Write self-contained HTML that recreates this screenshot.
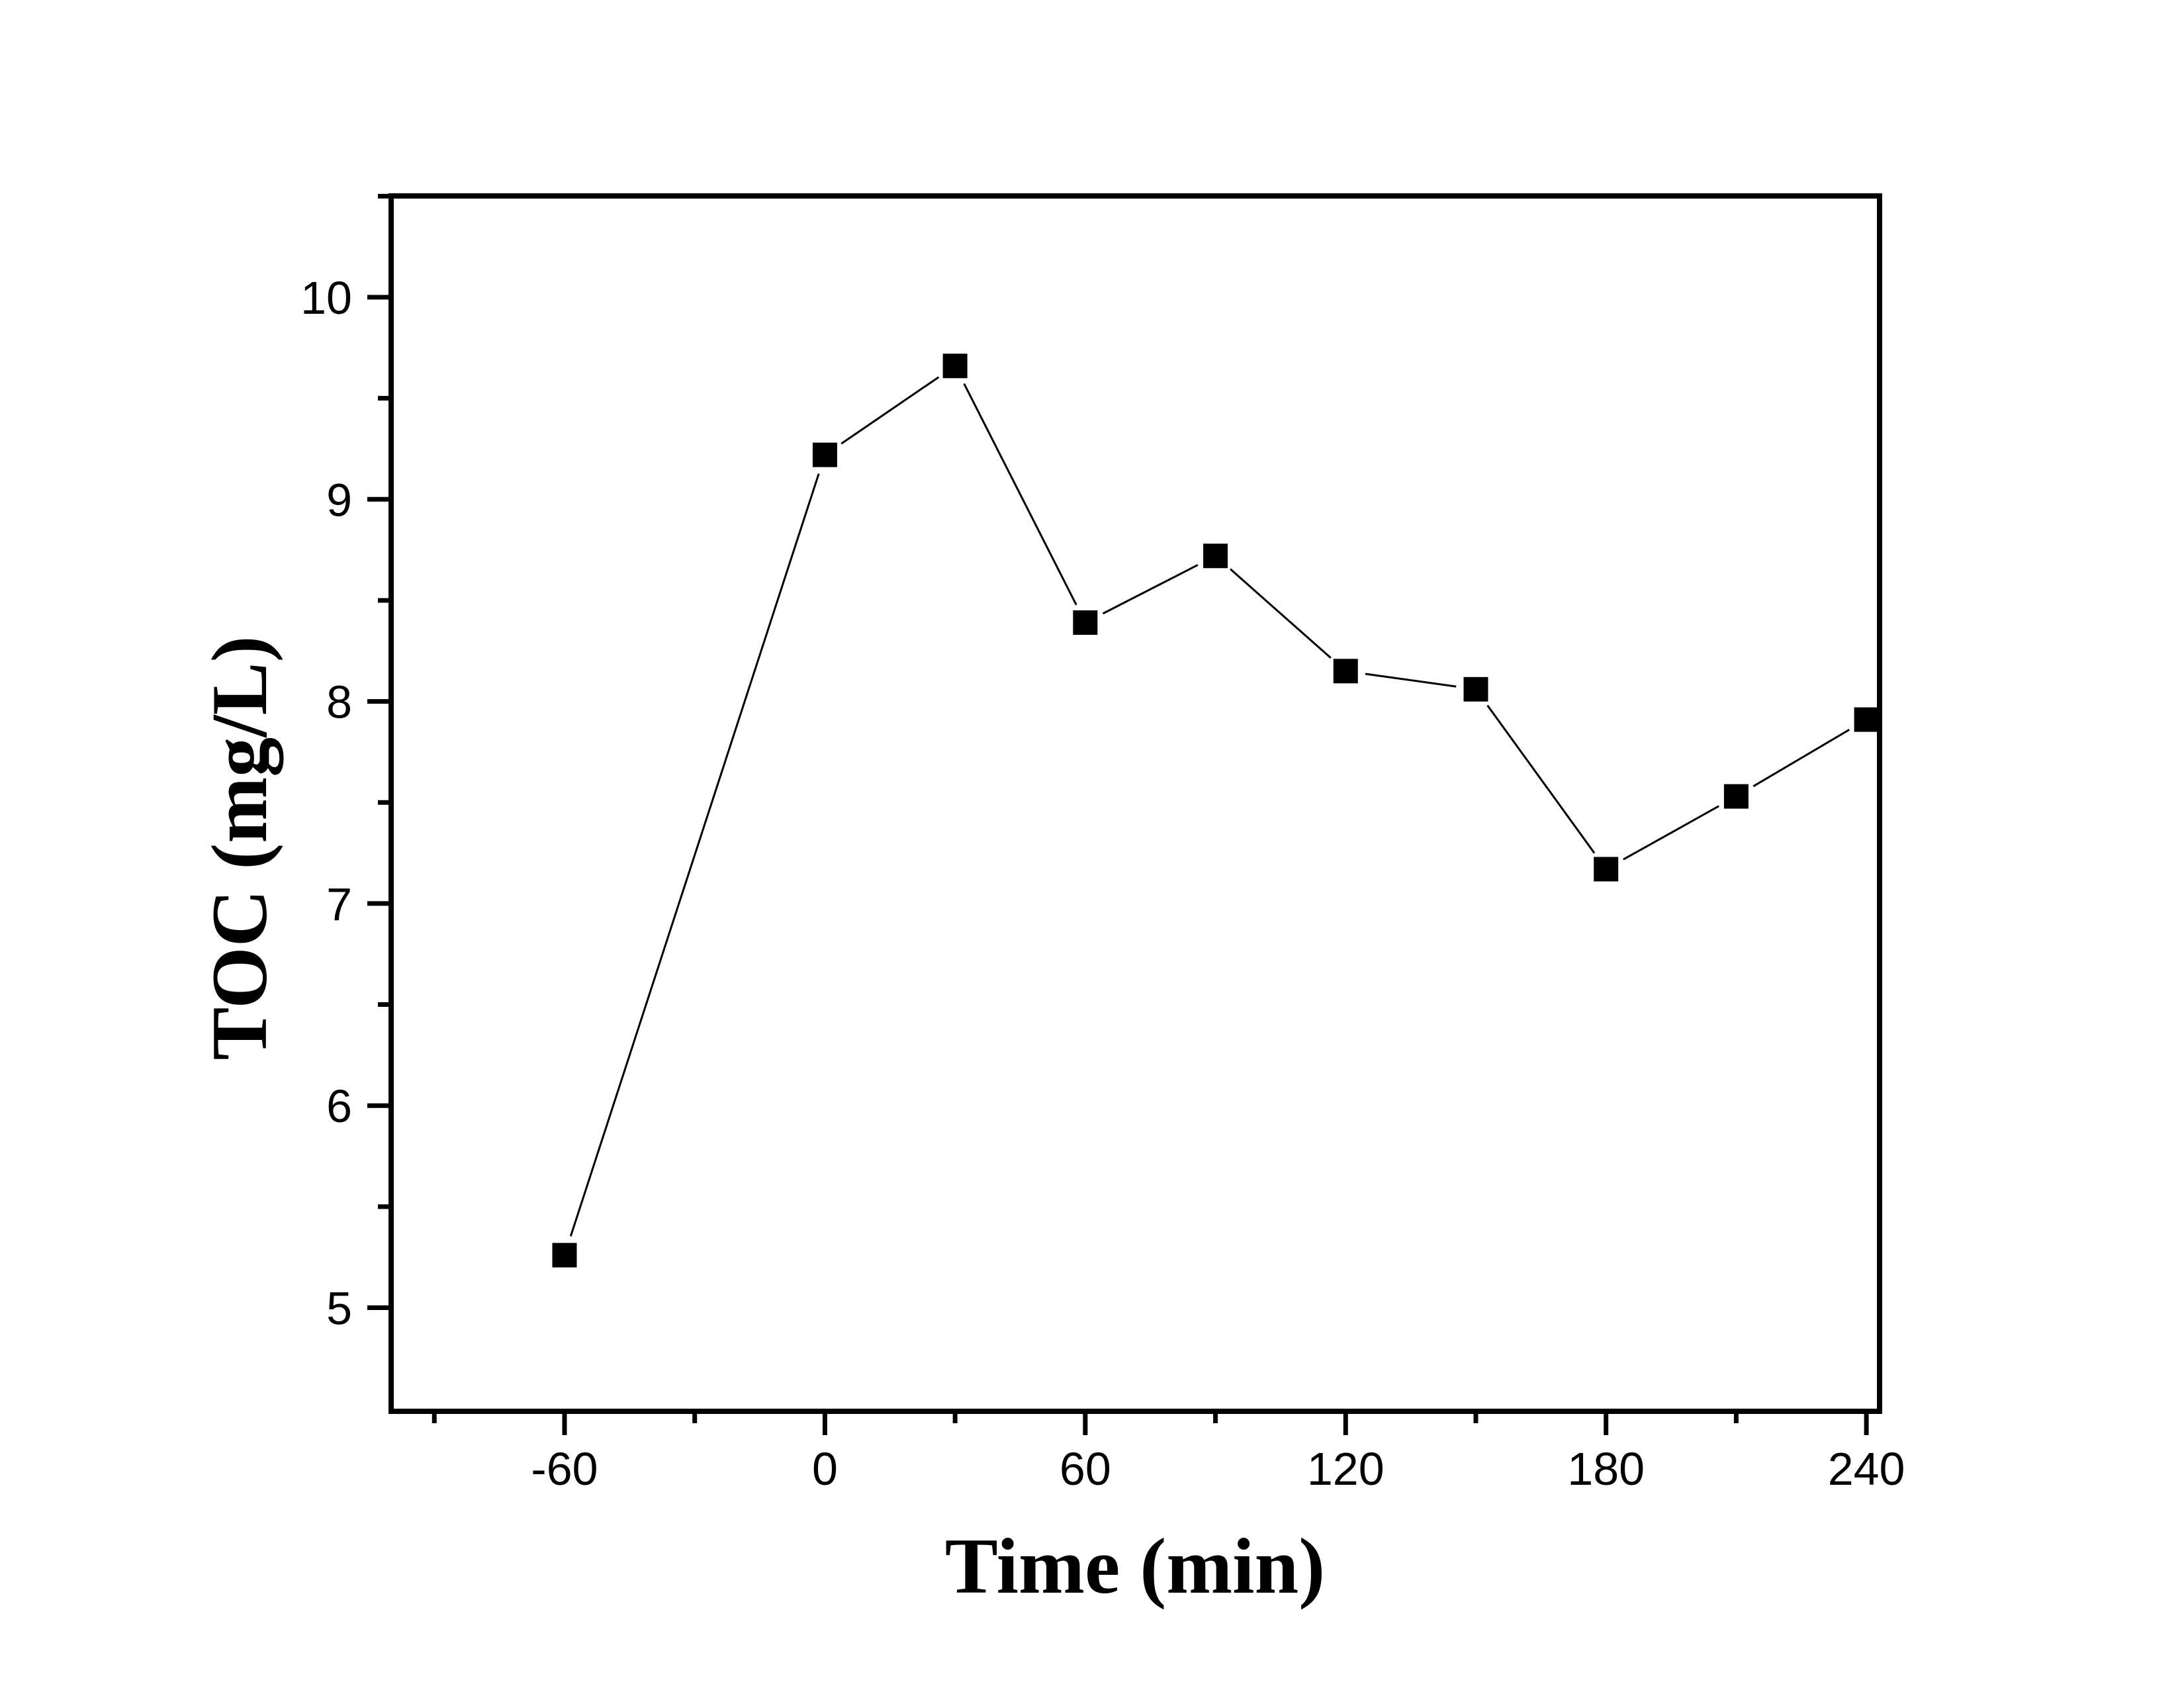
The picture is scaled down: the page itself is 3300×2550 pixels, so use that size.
<!DOCTYPE html>
<html><head><meta charset="utf-8"><style>html,body{margin:0;padding:0;background:#fff}svg{display:block}</style></head>
<body>
<svg id="chart" width="3300" height="2550" xmlns="http://www.w3.org/2000/svg">
<rect width="3300" height="2550" fill="#fff"/>
<g id="plot"></g>
<text x="1715" y="2406" text-anchor="middle" font-family="Liberation Serif, serif" font-weight="bold" font-size="120">Time (min)</text>
<text transform="translate(402,1281) rotate(-90)" text-anchor="middle" font-family="Liberation Serif, serif" font-weight="bold" font-size="120">TOC (mg/L)</text>
</svg>
<script>
const times = [-60, 0, 30, 60, 90, 120, 150, 180, 210, 240];
const toc = [5.26, 9.22, 9.66, 8.39, 8.72, 8.15, 8.06, 7.17, 7.53, 7.91];
const xTickLabels = ["-60", "0", "60", "120", "180", "240"];
const xTickValues = [-60, 0, 60, 120, 180, 240];
const xMinorValues = [-90, -30, 30, 90, 150, 210];
const yTickValues = [5, 6, 7, 8, 9, 10];
const yMinorValues = [5.5, 6.5, 7.5, 8.5, 9.5, 10.5];

const NS = "http://www.w3.org/2000/svg";
const L = 591, R = 2840, T = 296, B = 2132;
function xs(t) { return 853 + (t + 60) * 6.557; }
function ys(v) { return 1975.5 - (v - 5) * 305.3; }
const g = document.getElementById('plot');
function mk(tag, attrs) { const e = document.createElementNS(NS, tag); for (const k in attrs) e.setAttribute(k, attrs[k]); g.appendChild(e); return e; }

const frame = mk('rect', {x: L, y: T, width: R - L, height: B - T, fill: 'none', stroke: '#000', 'stroke-width': 8});



xTickValues.forEach((v, i) => {
  const t = mk('line', {x1: xs(v), x2: xs(v), y1: B, y2: B + 36, stroke: '#000', 'stroke-width': 7});
  
  
  const lb = mk('text', {x: xs(v), y: 2243, 'text-anchor': 'middle', 'font-family': 'Liberation Sans, sans-serif', 'font-size': 70});
  lb.textContent = xTickLabels[i];
  
  
});
xMinorValues.forEach(v => {
  const t = mk('line', {x1: xs(v), x2: xs(v), y1: B, y2: B + 18, stroke: '#000', 'stroke-width': 7});
  
  
});
yTickValues.forEach(v => {
  const t = mk('line', {x1: L - 36, x2: L, y1: ys(v), y2: ys(v), stroke: '#000', 'stroke-width': 7});
  
  
  const lb = mk('text', {x: 532, y: ys(v) + 25, 'text-anchor': 'end', 'font-family': 'Liberation Sans, sans-serif', 'font-size': 70});
  lb.textContent = String(v);
  
  
});
yMinorValues.forEach(v => {
  const t = mk('line', {x1: L - 20, x2: L, y1: ys(v), y2: ys(v), stroke: '#000', 'stroke-width': 7});
  
  
});

for (let i = 0; i < times.length - 1; i++) {
  const x1 = xs(times[i]), y1 = ys(toc[i]), x2 = xs(times[i + 1]), y2 = ys(toc[i + 1]);
  const d = Math.hypot(x2 - x1, y2 - y1), gap = 30;
  const ux = (x2 - x1) / d, uy = (y2 - y1) / d;
  const s = mk('line', {x1: x1 + ux * gap, y1: y1 + uy * gap, x2: x2 - ux * gap, y2: y2 - uy * gap, stroke: '#000', 'stroke-width': 3});
  
  
}
times.forEach((t, i) => {
  const m = mk('rect', {x: xs(t) - 18.5, y: ys(toc[i]) - 18.5, width: 37, height: 37, fill: '#000'});
  
  
});
</script>
</body></html>
